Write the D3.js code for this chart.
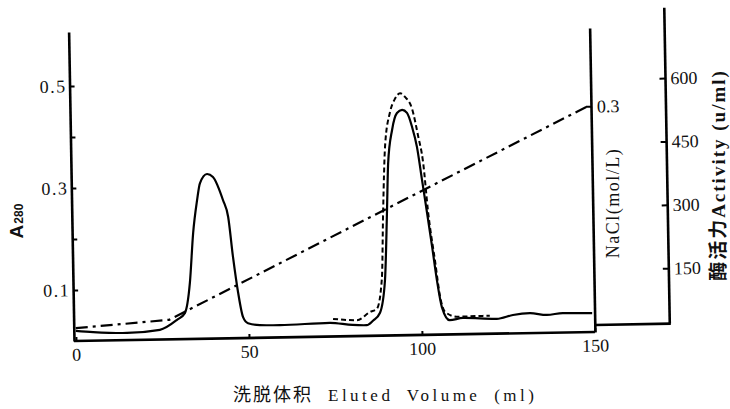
<!DOCTYPE html>
<html>
<head>
<meta charset="utf-8">
<script src="https://cdn.jsdelivr.net/npm/d3@7"></script>
<style>
body { margin: 0; background: #fff; }
text { fill: #111; }
</style>
</head>
<body>
<div class="chart"></div>
<script>
// ion-exchange elution profile: A280 (solid), enzyme activity (dashed), NaCl gradient (dash-dot)
WIDTH = 730
HEIGHT = 409

// A280 curve
var a280Ml  = [0, 5, 14.8, 24.3, 29.3, 31.6, 33.2, 34.4, 35.7, 36.6, 38.7, 40.4, 43.2, 44.6, 45.8, 47.1, 48.4, 49.8, 53.2, 59,
               73.4, 80, 84.1, 86, 88, 89.6, 90.5, 91.1, 92.4, 93.9, 95.4, 96.8, 98.2, 99.5, 100.8, 102.1, 103.4, 104.6, 105.9,
               108.1, 111.9, 121.7, 126.4, 131.3, 136.2, 140.8, 149.3];
var a280Val = [0.02, 0.017, 0.014, 0.019, 0.038, 0.051, 0.11, 0.208, 0.272, 0.305, 0.323, 0.317, 0.271, 0.238, 0.159, 0.089, 0.041, 0.029, 0.025, 0.024,
               0.027, 0.022, 0.021, 0.03, 0.045, 0.109, 0.24, 0.338, 0.403, 0.436, 0.442, 0.436, 0.408, 0.369, 0.304, 0.239, 0.172, 0.107, 0.054,
               0.028, 0.032, 0.029, 0.036, 0.039, 0.035, 0.038, 0.037];

// activity curve (u/ml)
var actMl  = [74.4, 81.3, 85.1, 87.1, 88.7, 89.4, 90.3, 91.9, 93.4, 94.9, 96.3, 98.3, 99.9, 101.2, 102.4, 104.2, 105.4, 106.8, 110.2, 117.6, 119.7];
var actVal = [44, 40, 59, 66, 137, 295, 451, 531, 562, 575, 566, 537, 473, 411, 293, 174, 94, 56, 44, 45, 45];

// NaCl gradient (mol/L)
var naclMl  = [0, 27, 149];
var naclVal = [0.017, 0.026, 0.3];

// ticks
var xTicks = [0, 50, 100, 150];
var a280Ticks = [0.1, 0.2, 0.3, 0.4, 0.5];
var a280Labels = ["0.1", "", "0.3", "", "0.5"];
var naclTicks = [0.3];
var actTicks = [150, 300, 450, 600];

var svg = d3.select(".chart").append("svg")
	.attr("width", WIDTH)
	.attr("height", HEIGHT);

// the printed figure sits slightly tilted
var plot = svg.append("g")
	.attr("transform", "translate(76,341) rotate(-1)");

var x = d3.scaleLinear().domain([0, 150]).range([0, 519]);
var yA = d3.scaleLinear().domain([0, 0.606]).range([0, -309]);
var yNa = d3.scaleLinear().domain([0, 0.404]).range([0, -304]);
var yAct = d3.scaleLinear().domain([0, 765]).range([1, -322.4]);
var ACT_X = x(150) + 75;
var AXIS_W = 2.6;

function styleAxis(g, size, spacing) {
	g.attr("font-family", "'Liberation Serif', serif")
		.attr("font-size", size);
	g.selectAll("text").style("letter-spacing", spacing + "px");
	g.select(".domain").attr("stroke", "#000").attr("stroke-width", AXIS_W);
	g.selectAll(".tick line").attr("stroke", "#000").attr("stroke-width", 2);
}

// bottom axis
var xAxis = plot.append("g")
	.call(d3.axisBottom(x).tickValues(xTicks).tickSize(-4).tickSizeOuter(0).tickPadding(7));
styleAxis(xAxis, 18, 0);
xAxis.select(".domain").remove();
plot.append("line")
	.attr("x1", -2).attr("y1", 0)
	.attr("x2", x(150)).attr("y2", 0)
	.attr("stroke", "#000").attr("stroke-width", AXIS_W);

// left A280 axis
var aAxis = plot.append("g")
	.attr("transform", "translate(-2,0)")
	.call(d3.axisLeft(yA).tickValues(a280Ticks)
		.tickFormat(function(d) { return a280Labels[a280Ticks.indexOf(d)]; })
		.tickSize(-5).tickSizeOuter(0).tickPadding(3));
styleAxis(aAxis, 18, 1.5);

// NaCl axis
var nAxis = plot.append("g")
	.attr("transform", "translate(" + x(150) + ",0)")
	.call(d3.axisRight(yNa).tickValues(naclTicks).tickFormat(d3.format(".1f"))
		.tickSize(-5).tickSizeOuter(0).tickPadding(6));
styleAxis(nAxis, 18, 0);

// activity axis
var actAxis = plot.append("g")
	.attr("transform", "translate(" + ACT_X + ",0)")
	.call(d3.axisRight(yAct).tickValues(actTicks).tickSize(-6).tickSizeOuter(0).tickPadding(5));
styleAxis(actAxis, 18, 0);
actAxis.select(".domain").remove();
plot.append("line")
	.attr("x1", ACT_X).attr("y1", -7)
	.attr("x2", ACT_X).attr("y2", -323)
	.attr("stroke", "#000").attr("stroke-width", AXIS_W);
plot.append("line")
	.attr("x1", x(150)).attr("y1", -7)
	.attr("x2", ACT_X + 1).attr("y2", -7)
	.attr("stroke", "#000").attr("stroke-width", AXIS_W);

// curves
var a280Line = d3.line()
	.x(function(d) { return x(d[0]); })
	.y(function(d) { return yA(d[1]); })
	.curve(d3.curveMonotoneX);

var actLine = d3.line()
	.x(function(d) { return x(d[0]); })
	.y(function(d) { return yAct(d[1]); })
	.curve(d3.curveMonotoneX);

var naclLine = d3.line()
	.x(function(d) { return x(d[0]); })
	.y(function(d) { return yNa(d[1]); });

plot.append("path")
	.attr("d", naclLine(d3.zip(naclMl, naclVal)))
	.attr("fill", "none")
	.attr("stroke", "#000")
	.attr("stroke-width", 2.2)
	.attr("stroke-dasharray", "12,5,3,5");

plot.append("path")
	.attr("d", actLine(d3.zip(actMl, actVal)))
	.attr("fill", "none")
	.attr("stroke", "#000")
	.attr("stroke-width", 2)
	.attr("stroke-dasharray", "5,3");

plot.append("path")
	.attr("d", a280Line(d3.zip(a280Ml, a280Val)))
	.attr("fill", "none")
	.attr("stroke", "#000")
	.attr("stroke-width", 2.2);

// axis titles
var aTitle = svg.append("text")
	.attr("transform", "translate(23,221) rotate(-90)")
	.attr("text-anchor", "middle")
	.attr("font-family", "'Liberation Sans', Arial, sans-serif")
	.attr("font-weight", "bold");
aTitle.append("tspan").attr("font-size", 19).text("A");
aTitle.append("tspan").attr("font-size", 12).attr("dx", 1).text("280");

svg.append("text")
	.attr("transform", "translate(619,203) rotate(-90)")
	.attr("text-anchor", "middle")
	.attr("font-family", "'Liberation Serif', serif")
	.attr("font-size", 18)
	.style("letter-spacing", "1.5px")
	.text("NaCl(mol/L)");

svg.append("text")
	.attr("transform", "translate(725,175) rotate(-90)")
	.attr("text-anchor", "middle")
	.attr("font-family", "'Liberation Serif', 'Noto Sans CJK SC', serif")
	.attr("font-weight", "bold")
	.attr("font-size", 19)
	.style("letter-spacing", "2px")
	.text("酶活力Activity (u/ml)");

var xTitle = svg.append("text")
	.attr("x", 233)
	.attr("y", 401)
	.attr("font-family", "'Liberation Serif', 'Noto Sans CJK SC', serif");
xTitle.append("tspan").attr("font-size", 18).style("letter-spacing", "2px").text("洗脱体积");
xTitle.append("tspan").attr("font-size", 17).attr("dx", 15)
	.style("letter-spacing", "3.5px").style("word-spacing", "6px").text("Eluted Volume (ml)");
</script>
</body>
</html>
